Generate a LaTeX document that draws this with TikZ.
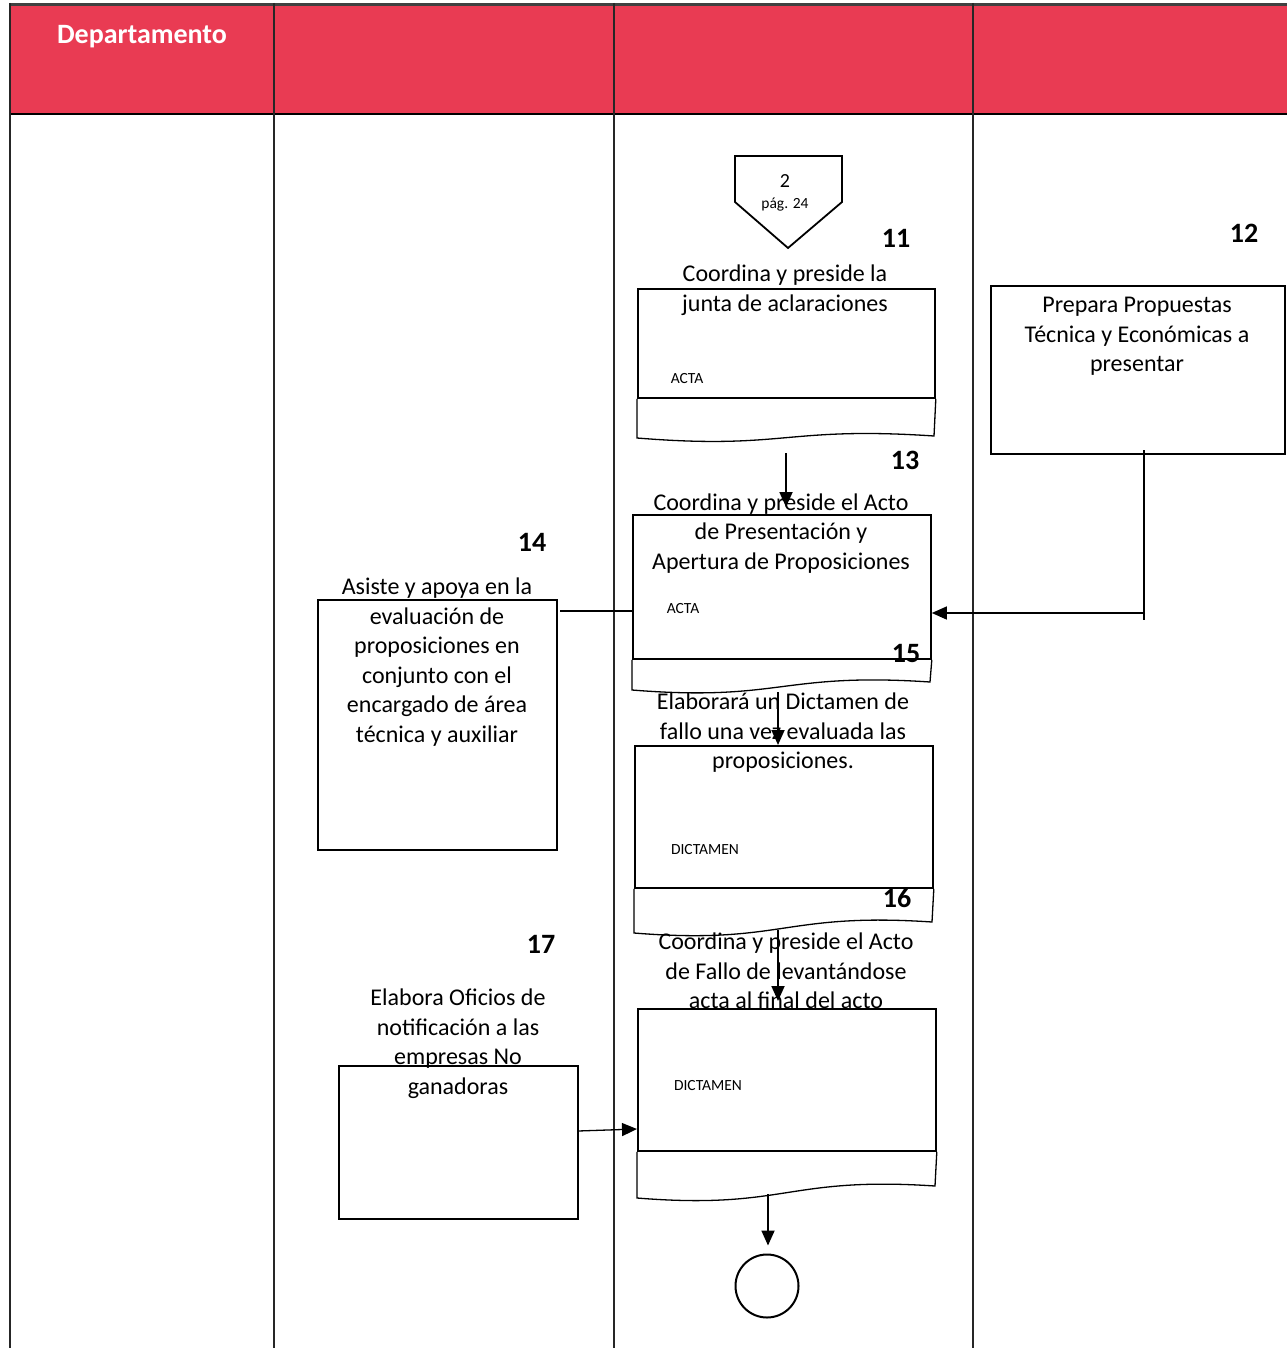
\documentclass[tikz,border=0pt]{standalone}
\usepackage{fontspec}
\setmainfont{Carlito}
\usetikzlibrary{arrows.meta}
\definecolor{hdrred}{RGB}{233,59,83}
\begin{document}
\begin{tikzpicture}[x=1pt,y=-1pt,
  lane/.style={line width=1.4pt, draw=black!85},
  procbox/.style={draw, line width=1.8pt, rectangle, inner sep=0, anchor=north west},
  docline/.style={line width=1.3pt},
  txt/.style={align=center, inner sep=0, font=\fontsize{24}{29.5}\selectfont},
  small/.style={inner sep=0, font=\fontsize{15.5}{18}\selectfont},
  num/.style={inner sep=0, font=\fontsize{28}{32}\selectfont\bfseries},
  arr/.style={line width=1.8pt, -{Triangle[length=15pt,width=13pt]}},
  plain/.style={line width=1.3pt}]
\useasboundingbox (0,0) rectangle (1287,1348);

% header band and swimlanes
\fill[hdrred] (10,5) rectangle (1287,114);
\draw[line width=3pt, black!75] (10,4.5) -- (1287,4.5);
\draw[line width=2.2pt] (10,114) -- (1287,114);
\foreach \xx in {10,274,614,973} \draw[lane] (\xx,3) -- (\xx,1348);
\node[inner sep=0, text=white, font=\fontsize{28}{32}\selectfont\bfseries] (hdr) at (142,37) {Departamento};

% off-page connector
\draw[line width=1.8pt] (735,156) -- (842,156) -- (842,202) -- (788,248) -- (735,202) -- cycle;
\node[inner sep=0, font=\fontsize{20}{22}\selectfont] (c2a) at (785,181) {2};
\node[small] (c2b) at (785,205) {pág. 24};

% process boxes
\node[procbox, minimum width=297pt, minimum height=109pt] (b11) at (637,288) {};
\node[procbox, minimum width=294pt, minimum height=168pt] (b12) at (990,285) {};
\node[procbox, minimum width=298pt, minimum height=144pt] (b13) at (632,514) {};
\node[procbox, minimum width=239pt, minimum height=250pt] (b14) at (317,599) {};
\node[procbox, minimum width=298pt, minimum height=142pt] (b15) at (634,745) {};
\node[procbox, minimum width=298pt, minimum height=142pt] (b16) at (637,1008) {};
\node[procbox, minimum width=239pt, minimum height=153pt] (b17) at (338,1065) {};
\node[draw, circle, line width=2pt, minimum size=63pt, inner sep=0] (endc) at (767,1286) {};

% document tails under the boxes
\draw[docline] (b11.south west) -- (637,438) .. controls (785,450) and (785,426) .. (934,436) -- (b11.south east);
\draw[docline] (b13.south west) -- (632,690) .. controls (781,702) and (781,672) .. (930,682) -- (b13.south east);
\draw[docline] (b15.south west) -- (634,933) .. controls (783,945) and (783,912) .. (932,922) -- (b15.south east);
\draw[docline] (b16.south west) -- (637,1198) .. controls (786,1210) and (786,1176) .. (935,1186) -- (b16.south east);

% step numbers
\node[num] (n11) at (896,238) {11};
\node[num] (n12) at (1244,233) {12};
\node[num] (n13) at (905,460) {13};
\node[num] (n14) at (532,542) {14};
\node[num] (n15) at (906,653) {15};
\node[num] (n16) at (897,898) {16};
\node[num] (n17) at (541,944) {17};

% box texts
\node[txt] (t11) at (785,290) {Coordina y preside la\\junta de aclaraciones};
\node[small] (d11) at (687,379) {ACTA};
\node[txt] (t12) at (1137,336.5) {Prepara Propuestas\\Técnica y Económicas a\\presentar};
\node[txt] (t13) at (781,533.5) {Coordina y preside el Acto\\de Presentación y\\Apertura de Proposiciones};
\node[small] (d13) at (683,609) {ACTA};
\node[txt] (t14) at (437,662) {Asiste y apoya en la\\evaluación de\\proposiciones en\\conjunto con el\\encargado de área\\técnica y auxiliar};
\node[txt] (t15) at (783,733) {Elaborará un Dictamen de\\fallo una vez evaluada las\\proposiciones.};
\node[small] (d15) at (705,850) {DICTAMEN};
\node[txt] (t16) at (786,971) {Coordina y preside el Acto\\de Fallo de levantándose\\acta al final del acto};
\node[small] (d16) at (708,1086) {DICTAMEN};
\node[txt] (t17) at (458,1043.5) {Elabora Oficios de\\notificación a las\\empresas No\\ganadoras};

% connectors
\coordinate (o11) at (786,453);
\draw[arr, shorten >=7pt] (o11) -- (o11 |- b13.north);
\coordinate (o13) at (778,692);
\draw[arr] (o13) -- (o13 |- b15.north);
\coordinate (o15) at (778,930);
\draw[arr, shorten >=7pt] (o15) -- (o15 |- b16.north);
\coordinate (o16) at (768,1194);
\draw[arr, shorten >=8pt] (o16) -- (o16 |- endc.north);
\coordinate (o12) at (1144,450);
\coordinate (j12) at (1144,620);
\draw[plain] (o12) -- (j12);
\coordinate (k12) at (1145,613);
\draw[arr, line width=1.3pt] (k12) -- (k12 -| b13.east);
\coordinate (o14) at (560,611);
\draw[plain] (o14) -- (o14 -| b13.west);
\coordinate (o17) at (578,1131);
\coordinate (t16in) at (637,1129);
\draw[arr, line width=1.3pt] (o17) -- (t16in);
\end{tikzpicture}
\end{document}
